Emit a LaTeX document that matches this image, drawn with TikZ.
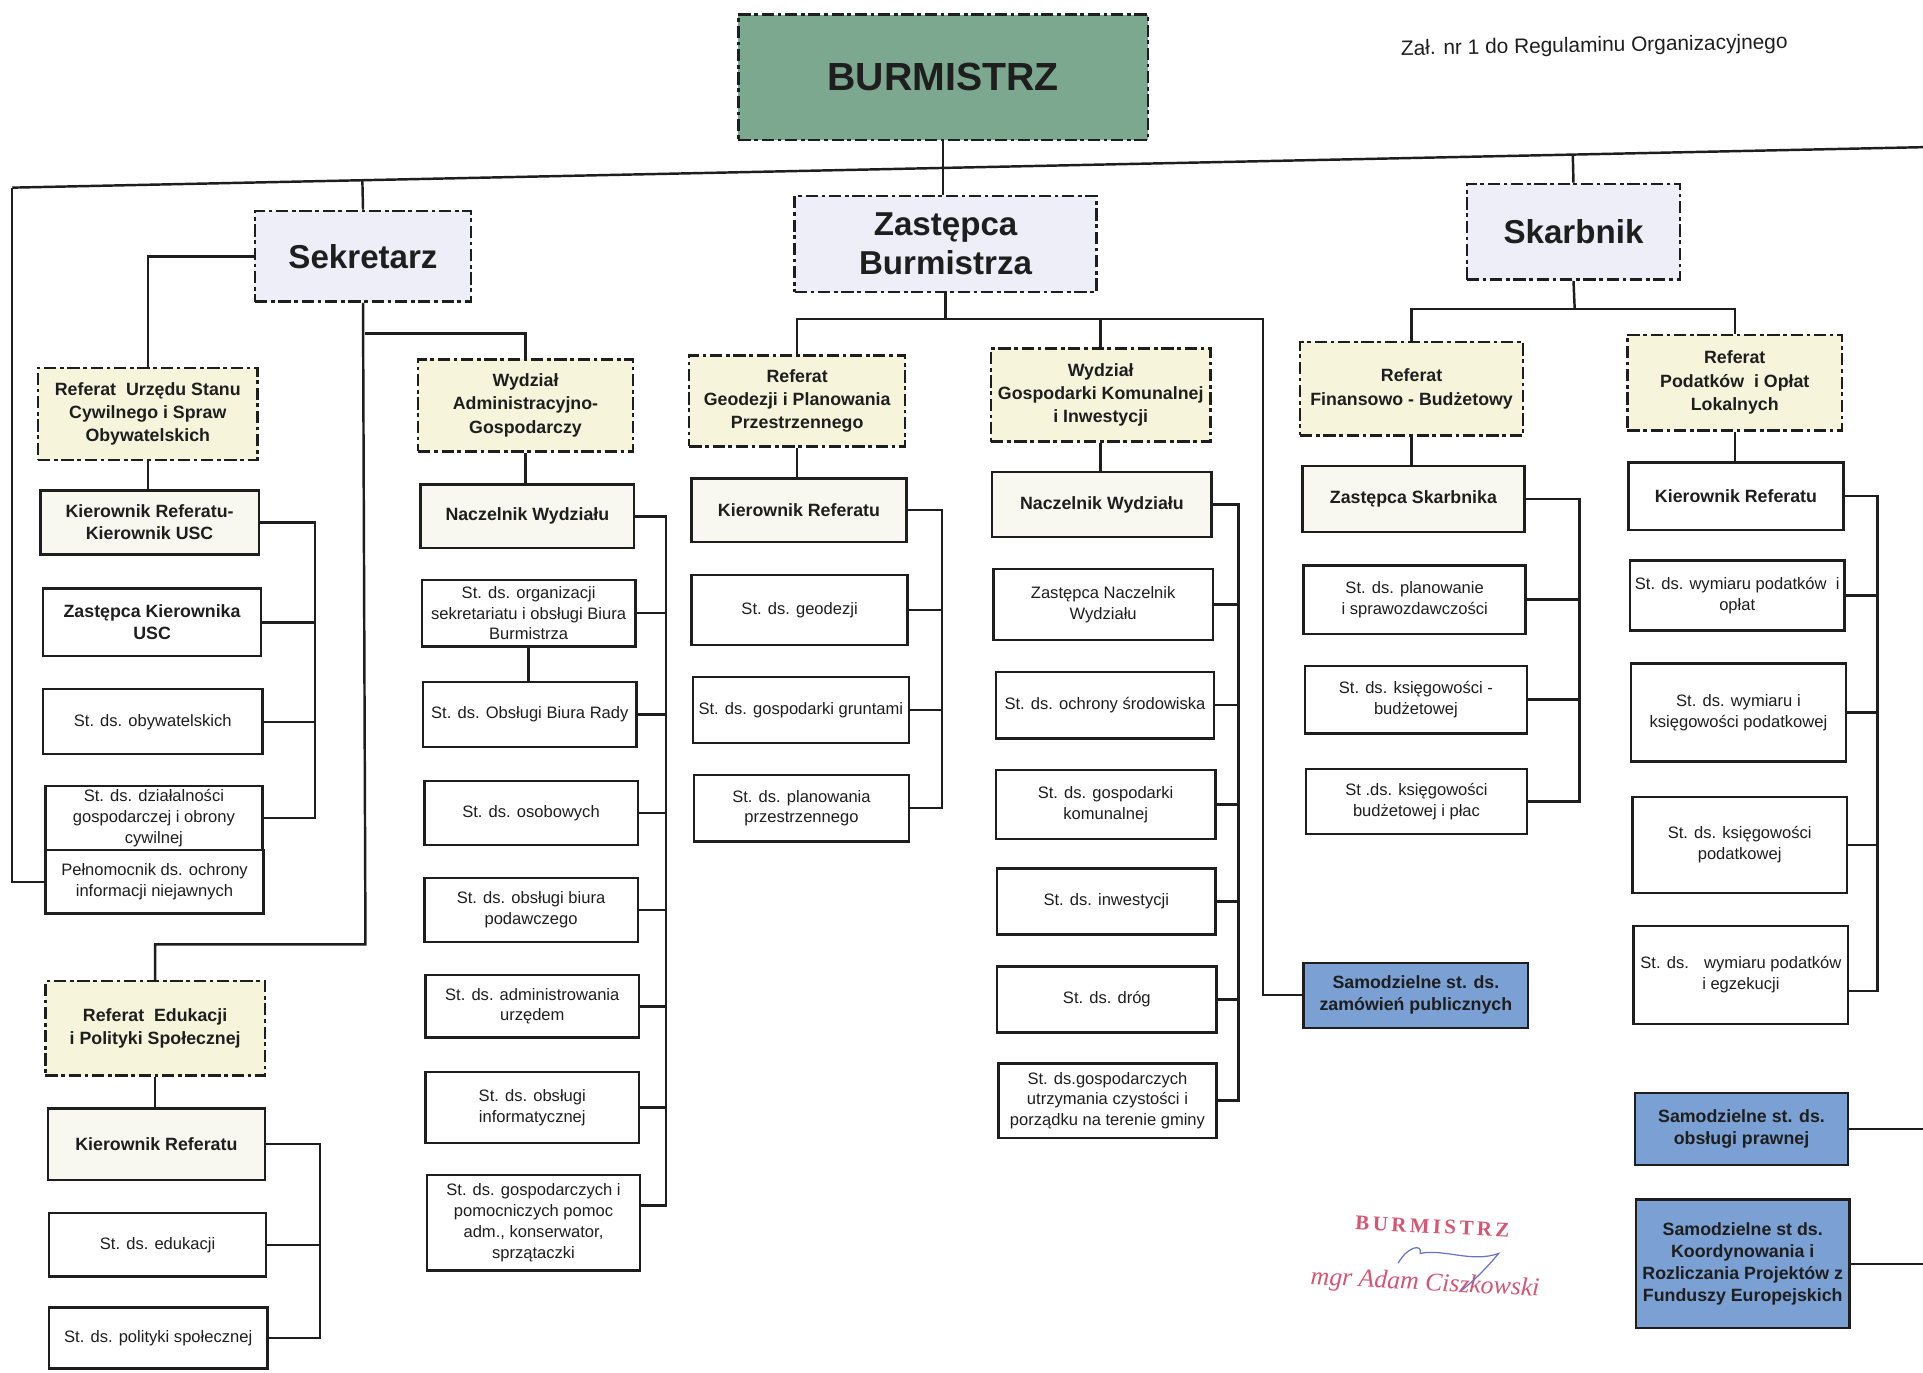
\documentclass[tikz,border=0pt]{standalone}
\usepackage{fontspec}
\setmainfont{Liberation Sans}
\newfontfamily\sigserif{Liberation Serif}
\usetikzlibrary{calc}
\definecolor{burgreen}{RGB}{124,168,144}
\definecolor{lav}{RGB}{238,238,248}
\definecolor{ylw}{RGB}{246,245,220}
\definecolor{pale}{RGB}{248,248,240}
\definecolor{blu}{RGB}{122,160,212}
\definecolor{ink}{RGB}{30,30,30}
\definecolor{stamp}{RGB}{215,85,115}
\definecolor{pen}{RGB}{105,115,200}
\newcommand\orgbox[7]{\node[#2, minimum width={(#5)-(#3)}, minimum height={(#6)-(#4)}] (#1) at ({((#3)+(#5))/2},{((#4)+(#6))/2}) {#7};}
\tikzset{
  conn/.style={line width=2pt, draw=ink},
  base/.style={draw=ink, line width=2pt, align=center, inner sep=1pt, text=ink},
  dbox/.style={base, dash pattern=on 10pt off 3pt on 3pt off 3pt},
  topbox/.style={dbox, fill=burgreen, font=\fontsize{32}{36}\selectfont\bfseries},
  chief/.style={dbox, fill=lav, font=\fontsize{27}{32}\selectfont\bfseries},
  unit/.style={dbox, fill=ylw, font=\fontsize{14.5}{19}\selectfont\bfseries},
  lead/.style={base, fill=pale, font=\fontsize{14.5}{18}\selectfont\bfseries},
  boldbox/.style={base, fill=white, font=\fontsize{14.5}{18}\selectfont\bfseries},
  post/.style={base, fill=white, font=\fontsize{13.5}{17}\selectfont},
  solo/.style={base, fill=blu, font=\fontsize{14.5}{18}\selectfont\bfseries},
}
\begin{document}
\begin{tikzpicture}[x=1pt,y=-1pt]
\useasboundingbox[fill=white] (0,0) rectangle (1568,1119);

% ---------- top level ----------
\orgbox{bur}{topbox}{602}{12}{936}{114}{BURMISTRZ}
\node[font=\fontsize{17}{20}\selectfont, text=ink, rotate=1] (zal) at (1300,38) {Zał. nr 1 do Regulaminu Organizacyjnego};
\orgbox{sek}{chief}{208}{172}{384}{246}{Sekretarz}
\orgbox{zast}{chief}{648}{160}{894}{238}{Zastępca\\Burmistrza}
\orgbox{skarb}{chief}{1196}{150}{1370}{228}{Skarbnik}

% ---------- Sekretarz branch ----------
\orgbox{rusc}{unit}{31}{300}{210}{375}{Referat~ Urzędu Stanu\\Cywilnego i Spraw\\Obywatelskich}
\orgbox{kusc}{lead}{33}{400}{211}{452}{Kierownik Referatu-\\Kierownik USC}
\orgbox{zkusc}{boldbox}{35}{480}{213}{535}{Zastępca Kierownika\\USC}
\orgbox{obyw}{post}{35}{562}{214}{615}{St. ds. obywatelskich}
\orgbox{dzial}{post}{37}{641}{214}{693}{St. ds. działalności\\gospodarczej i obrony\\cywilnej}
\orgbox{peln}{post}{37}{693}{215}{745}{Pełnomocnik ds. ochrony\\informacji niejawnych}

\orgbox{wadm}{unit}{341}{293}{516}{368}{Wydział\\Administracyjno-\\Gospodarczy}
\orgbox{nwadm}{lead}{343}{395}{517}{447}{Naczelnik Wydziału}
\orgbox{sorg}{post}{344}{473}{518}{527}{St. ds. organizacji\\sekretariatu i obsługi Biura\\Burmistrza}
\orgbox{sbr}{post}{345}{556}{519}{609}{St. ds. Obsługi Biura Rady}
\orgbox{sos}{post}{346}{637}{520}{689}{St. ds. osobowych}
\orgbox{spod}{post}{346}{716}{520}{768}{St. ds. obsługi biura\\podawczego}
\orgbox{sadm}{post}{347}{795}{521}{846}{St. ds. administrowania\\urzędem}
\orgbox{sinf}{post}{347}{874}{521}{932}{St. ds. obsługi\\informatycznej}
\orgbox{sgosp}{post}{348}{958}{522}{1036}{St. ds. gospodarczych i\\pomocniczych pomoc\\adm., konserwator,\\sprzątaczki}

\orgbox{redu}{unit}{37}{800}{216}{877}{Referat~ Edukacji\\i Polityki Społecznej}
\orgbox{kedu}{lead}{39}{904}{216}{962}{Kierownik Referatu}
\orgbox{sedu}{post}{40}{989}{217}{1041}{St. ds. edukacji}
\orgbox{spol}{post}{40}{1066}{218}{1116}{St. ds. polityki społecznej}

% ---------- Zastepca branch ----------
\orgbox{rgeo}{unit}{562}{290}{738}{364}{Referat\\Geodezji i Planowania\\Przestrzennego}
\orgbox{kgeo}{lead}{564}{390}{739}{442}{Kierownik Referatu}
\orgbox{sgeo}{post}{564}{469}{740}{526}{St. ds. geodezji}
\orgbox{sgru}{post}{565}{552}{741}{606}{St. ds. gospodarki gruntami}
\orgbox{spla}{post}{566}{632}{741}{686}{St. ds. planowania\\przestrzennego}

\orgbox{wgk}{unit}{808}{284}{987}{360}{Wydział\\Gospodarki Komunalnej\\i Inwestycji}
\orgbox{nwgk}{lead}{809}{385}{988}{438}{Naczelnik Wydziału}
\orgbox{znwgk}{post}{810}{464}{989}{522}{Zastępca Naczelnik\\Wydziału}
\orgbox{soch}{post}{812}{548}{990}{602}{St. ds. ochrony środowiska}
\orgbox{skom}{post}{812}{628}{991}{684}{St. ds. gospodarki\\komunalnej}
\orgbox{sinw}{post}{813}{708}{991}{762}{St. ds. inwestycji}
\orgbox{sdrog}{post}{813}{788}{992}{842}{St. ds. dróg}
\orgbox{sczys}{post}{814}{867}{992}{928}{St. ds.gospodarczych\\utrzymania czystości i\\porządku na terenie gminy}

\orgbox{zamow}{solo}{1063}{785}{1246}{838}{Samodzielne st. ds.\\zamówień publicznych}

% ---------- Skarbnik branch ----------
\orgbox{rfin}{unit}{1060}{279}{1242}{355}{Referat\\Finansowo - Budżetowy}
\orgbox{zskarb}{lead}{1062}{380}{1243}{434}{Zastępca Skarbnika}
\orgbox{spl}{post}{1063}{461}{1244}{517}{St. ds. planowanie\\i sprawozdawczości}
\orgbox{sks}{post}{1064}{543}{1245}{598}{St. ds. księgowości -\\budżetowej}
\orgbox{sksp}{post}{1065}{627}{1245}{680}{St .ds. księgowości\\budżetowej i płac}

\orgbox{rpod}{unit}{1327}{273}{1502}{351}{Referat\\Podatków~ i Opłat\\Lokalnych}
\orgbox{kpod}{boldbox}{1328}{377}{1503}{432}{Kierownik Referatu}
\orgbox{swp}{post}{1329}{457}{1504}{514}{St. ds. wymiaru podatków~ i\\opłat}
\orgbox{swk}{post}{1330}{541}{1505}{621}{St. ds. wymiaru i\\księgowości podatkowej}
\orgbox{skp}{post}{1331}{650}{1506}{728}{St. ds. księgowości\\podatkowej}
\orgbox{swe}{post}{1332}{755}{1507}{835}{St. ds.~~ wymiaru podatków\\i egzekucji}

\orgbox{sprawn}{solo}{1333}{891}{1507}{950}{Samodzielne st. ds.\\obsługi prawnej}
\orgbox{sfund}{solo}{1334}{978}{1508}{1083}{Samodzielne st ds.\\Koordynowania i\\Rozliczania Projektów z\\Funduszy Europejskich}

% ---------- coordinates ----------
\coordinate (mL) at (10,153);
\coordinate (mR) at (1568,120);
\coordinate (pageR) at (1568,0);
\coordinate (sekJ) at (298,770);
\coordinate (sekA) at (298,272);
\coordinate (zJ) at (1030,260);
\coordinate (sJ) at (1284,252);
\coordinate (busA) at (257,0);
\coordinate (busB) at (543,0);
\coordinate (busC) at (261,0);
\coordinate (busD) at (768,0);
\coordinate (busE) at (1010,0);
\coordinate (busF) at (1288,0);
\coordinate (busG) at (1531,0);

% ---------- connectors ----------
\draw[conn] (mL) -- (mR);
\draw[conn] (bur.south) -- (bur.south |- zast.north);
\draw[conn] (sek.north) -- ($(mL)!(sek.north)!(mR)$);
\draw[conn] (skarb.north) -- ($(mL)!(skarb.north)!(mR)$);
\draw[conn] (mL) |- (peln.west);

\draw[conn] (sek.west) -| (rusc.north);
\draw[conn] (sek.south) -- (sekJ) -| (redu.north);
\draw[conn] (sekA) -| (wadm.north);
\draw[conn] (rusc.south) -- (rusc.south |- kusc.north);
\draw[conn] (wadm.south) -- (wadm.south |- nwadm.north);
\draw[conn] (sorg.south) -- (sorg.south |- sbr.north);
\draw[conn] (redu.south) -- (redu.south |- kedu.north);

\draw[conn] (kusc.east) -| (busA |- dzial.east) -- (dzial.east);
\foreach \n in {zkusc,obyw} \draw[conn] (\n.east) -- (busA |- \n.east);

\draw[conn] (nwadm.east) -| ([yshift=14pt]busB |- sgosp.east) -- ([yshift=14pt]sgosp.east);
\foreach \n in {sorg,sbr,sos,spod,sadm,sinf} \draw[conn] (\n.east) -- (busB |- \n.east);

\draw[conn] (kedu.east) -| (busC |- spol.east) -- (spol.east);
\draw[conn] (sedu.east) -- (busC |- sedu.east);

\draw[conn] (zast.south) -- (zast.south |- zJ);
\draw[conn] (rgeo.north) |- (zJ) |- (zamow.west);
\draw[conn] (wgk.north) -- (wgk.north |- zJ);
\draw[conn] (rgeo.south) -- (rgeo.south |- kgeo.north);
\draw[conn] (wgk.south) -- (wgk.south |- nwgk.north);

\draw[conn] (kgeo.east) -| (busD |- spla.east) -- (spla.east);
\foreach \n in {sgeo,sgru} \draw[conn] (\n.east) -- (busD |- \n.east);

\draw[conn] (nwgk.east) -| (busE |- sczys.east) -- (sczys.east);
\foreach \n in {znwgk,soch,skom,sinw,sdrog} \draw[conn] (\n.east) -- (busE |- \n.east);

\draw[conn] (skarb.south) -- (sJ);
\draw[conn] (rfin.north) |- (sJ) -| (rpod.north);
\draw[conn] (rfin.south) -- (rfin.south |- zskarb.north);
\draw[conn] (rpod.south) -- (rpod.south |- kpod.north);

\draw[conn] (zskarb.east) -| (busF |- sksp.east) -- (sksp.east);
\foreach \n in {spl,sks} \draw[conn] (\n.east) -- (busF |- \n.east);

\draw[conn] (kpod.east) -| ([yshift=-13pt]busG |- swe.east) -- ([yshift=-13pt]swe.east);
\foreach \n in {swp,swk,skp} \draw[conn] (\n.east) -- (busG |- \n.east);

\draw[conn] (sprawn.east) -- (sprawn.east -| pageR);
\draw[conn] (sfund.east) -- (sfund.east -| pageR);

% ---------- signature stamp ----------
\node[text=stamp, font=\sigserif\fontsize{17}{20}\selectfont\bfseries, rotate=-3] (stampA) at (1168,1000) {B\,U\,R\,M\,I\,S\,T\,R\,Z};
\node[text=stamp, font=\sigserif\fontsize{21}{24}\selectfont\itshape, rotate=-3] (stampB) at (1162,1047) {mgr Adam Ciszkowski};
\draw[pen, line width=1pt] (1140,1030) .. controls (1148,1016) and (1160,1014) .. (1158,1022) .. controls (1178,1018) and (1200,1030) .. (1222,1022) .. controls (1212,1034) and (1202,1044) .. (1192,1052);
\end{tikzpicture}
\end{document}
